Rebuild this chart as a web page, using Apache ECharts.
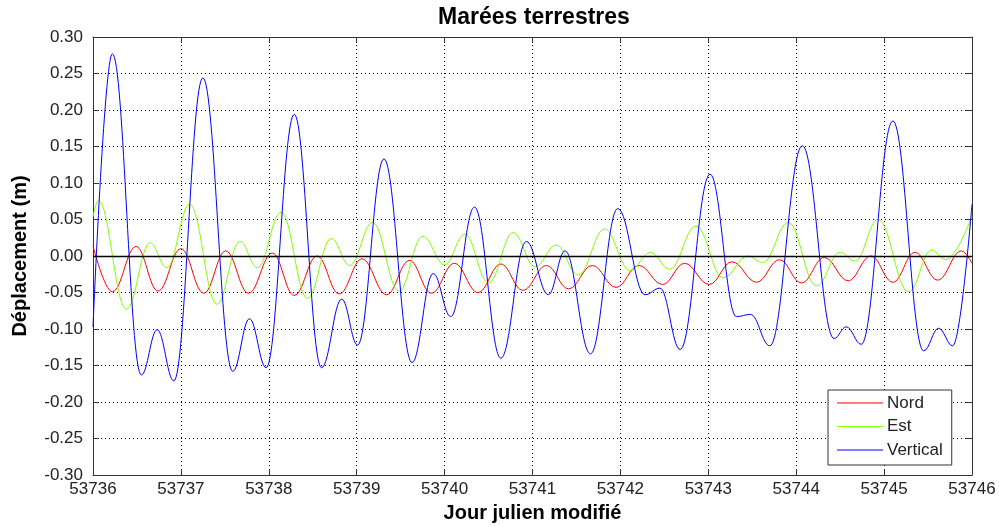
<!DOCTYPE html>
<html>
<head>
<meta charset="utf-8">
<script src="https://cdn.jsdelivr.net/npm/echarts@6/dist/echarts.min.js"></script>
<style>
  html, body { margin: 0; padding: 0; background: #fff; }
  #chart { width: 999px; height: 527px; }
</style>
</head>
<body>
<div id="chart"></div>
<script>
// Modified Julian Day range and y ticks
const dayStart = 53736;
const dayEnd = 53746;
const yMin = -0.30, yMax = 0.30, yStep = 0.05;

// Nord component: turning points (MJD, metres)
const nordDays = [53736.00, 53736.22, 53736.49, 53736.74, 53737.00, 53737.26, 53737.51, 53737.77, 53738.04, 53738.29,
  53738.55, 53738.80, 53739.06, 53739.34, 53739.60, 53739.85, 53740.11, 53740.38, 53740.64, 53740.89,
  53741.16, 53741.41, 53741.68, 53741.95, 53742.21, 53742.48, 53742.73, 53743.01, 53743.27, 53743.55,
  53743.81, 53744.06, 53744.32, 53744.59, 53744.85, 53745.10, 53745.35, 53745.61, 53745.88, 53746.00];
const nordVals = [0.014, -0.049, 0.013, -0.048, 0.010, -0.051, 0.007, -0.051, 0.004, -0.054,
  0.000, -0.052, -0.004, -0.053, -0.006, -0.051, -0.010, -0.050, -0.011, -0.047,
  -0.013, -0.045, -0.013, -0.043, -0.013, -0.039, -0.010, -0.039, -0.008, -0.036,
  -0.005, -0.037, -0.002, -0.034, 0.000, -0.036, 0.005, -0.033, 0.007, -0.010];

// Est component
const estDays = [53736.00, 53736.06, 53736.38, 53736.65, 53736.84, 53737.10, 53737.41, 53737.67, 53737.87, 53738.14,
  53738.44, 53738.71, 53738.92, 53739.18, 53739.48, 53739.75, 53740.00, 53740.23, 53740.50, 53740.78,
  53741.03, 53741.27, 53741.52, 53741.82, 53742.11, 53742.34, 53742.56, 53742.86, 53743.17, 53743.45,
  53743.62, 53743.91, 53744.23, 53744.50, 53744.67, 53744.93, 53745.28, 53745.54, 53745.70, 53746.00];
const estVals = [0.054, 0.076, -0.073, 0.018, -0.016, 0.071, -0.066, 0.020, -0.016, 0.060,
  -0.058, 0.024, -0.013, 0.046, -0.048, 0.027, -0.012, 0.030, -0.037, 0.032,
  -0.015, 0.015, -0.026, 0.037, -0.020, 0.005, -0.018, 0.041, -0.030, 0.000,
  -0.009, 0.046, -0.041, 0.005, -0.007, 0.050, -0.049, 0.008, -0.005, 0.055];

// Vertical component
const vertDays = [53736.00, 53736.22, 53736.55, 53736.73, 53736.92, 53737.25, 53737.59, 53737.78, 53737.97, 53738.29,
  53738.60, 53738.83, 53739.01, 53739.31, 53739.63, 53739.87, 53740.07, 53740.34, 53740.64, 53740.93,
  53741.18, 53741.37, 53741.66, 53741.97, 53742.28, 53742.45, 53742.68, 53743.02, 53743.32, 53743.48,
  53743.70, 53744.07, 53744.43, 53744.57, 53744.74, 53745.10, 53745.45, 53745.62, 53745.78, 53746.00];
const vertVals = [-0.097, 0.277, -0.163, -0.101, -0.171, 0.244, -0.158, -0.086, -0.153, 0.194,
  -0.153, -0.059, -0.122, 0.133, -0.146, -0.024, -0.083, 0.067, -0.140, 0.020,
  -0.053, 0.007, -0.134, 0.065, -0.053, -0.044, -0.128, 0.112, -0.083, -0.080,
  -0.123, 0.151, -0.113, -0.097, -0.121, 0.185, -0.130, -0.099, -0.123, 0.071];

const seriesNames = ['Nord', 'Est', 'Vertical'];
const seriesColors = ['#ff0000', '#80ff00', '#0000ff'];

const pairs = (xs, ys) => xs.map((x, i) => [x, ys[i]]);

const fontFamily = 'Liberation Sans, Arial, sans-serif';
const textColor = '#222';
const boxColor = '#333';

const chart = echarts.init(document.getElementById('chart'), null, { renderer: 'canvas' });

const lineSeries = (name, color, data) => ({
  name: name,
  type: 'line',
  data: data,
  showSymbol: false,
  symbol: 'none',
  smooth: 0.4,
  smoothMonotone: 'x',
  lineStyle: { color: color, width: 1 },
  itemStyle: { color: color },
  animation: false,
  z: 3
});

const option = {
  backgroundColor: '#fff',
  animation: false,
  title: {
    text: 'Marées terrestres',
    left: 529,
    textAlign: 'center',
    top: 1,
    textStyle: { fontFamily: fontFamily, fontSize: 23, fontWeight: 'bold', color: '#000' }
  },
  legend: {
    data: seriesNames.map(n => ({ name: n, icon: 'rect' })),
    orient: 'vertical',
    left: 828,
    top: 390,
    backgroundColor: '#fff',
    borderColor: boxColor,
    borderWidth: 1,
    borderRadius: 0,
    padding: [3, 9, 5, 9],
    itemGap: 3.5,
    itemWidth: 46,
    itemHeight: 1,
    textStyle: { fontFamily: fontFamily, fontSize: 17, lineHeight: 20, color: textColor, padding: [0, 0, 0, -1] }
  },
  grid: { left: 93, right: 27, top: 37, bottom: 52, show: false, containLabel: false, outerBoundsMode: 'none' },
  xAxis: [{
    type: 'value',
    min: dayStart,
    max: dayEnd,
    interval: 1,
    name: 'Jour julien modifié',
    nameLocation: 'middle',
    nameGap: 28,
    nameTextStyle: { fontFamily: fontFamily, fontSize: 20, fontWeight: 'bold', color: '#000' },
    axisLine: { show: true, onZero: false, lineStyle: { color: boxColor, width: 1 } },
    axisTick: { show: true, inside: true, length: 6, lineStyle: { color: boxColor } },
    axisLabel: {
      fontFamily: fontFamily, fontSize: 17, color: textColor, margin: 6,
      formatter: v => String(Math.round(v))
    },
    splitLine: { show: true, lineStyle: { color: '#000', type: [1, 3], width: 1 } }
  }, {
    type: 'value',
    position: 'top',
    min: dayStart,
    max: dayEnd,
    interval: 1,
    axisLine: { show: true, onZero: false, lineStyle: { color: boxColor, width: 1 } },
    axisTick: { show: true, inside: true, length: 6, lineStyle: { color: boxColor } },
    axisLabel: { show: false },
    splitLine: { show: false }
  }],
  yAxis: [{
    type: 'value',
    min: yMin,
    max: yMax,
    interval: yStep,
    name: 'Déplacement (m)',
    nameLocation: 'middle',
    nameGap: 63,
    nameTextStyle: { fontFamily: fontFamily, fontSize: 20, fontWeight: 'bold', color: '#000' },
    axisLine: { show: true, onZero: false, lineStyle: { color: boxColor, width: 1 } },
    axisTick: { show: true, inside: true, length: 6, lineStyle: { color: boxColor } },
    axisLabel: {
      fontFamily: fontFamily, fontSize: 17, color: textColor, margin: 10,
      formatter: v => (Math.abs(v) < 1e-9 ? 0 : v).toFixed(2)
    },
    splitLine: { show: true, lineStyle: { color: '#000', type: [1, 3], width: 1 } }
  }, {
    type: 'value',
    position: 'right',
    min: yMin,
    max: yMax,
    interval: yStep,
    axisLine: { show: true, onZero: false, lineStyle: { color: boxColor, width: 1 } },
    axisTick: { show: true, inside: true, length: 6, lineStyle: { color: boxColor } },
    axisLabel: { show: false },
    splitLine: { show: false }
  }],
  series: [
    Object.assign(lineSeries(seriesNames[0], seriesColors[0], pairs(nordDays, nordVals)), {
      markLine: {
        silent: true,
        symbol: 'none',
        label: { show: false },
        lineStyle: { color: '#000', width: 1.3, type: 'solid' },
        data: [{ yAxis: 0 }],
        animation: false
      }
    }),
    lineSeries(seriesNames[1], seriesColors[1], pairs(estDays, estVals)),
    lineSeries(seriesNames[2], seriesColors[2], pairs(vertDays, vertVals))
  ]
};

chart.setOption(option);
</script>
</body>
</html>
